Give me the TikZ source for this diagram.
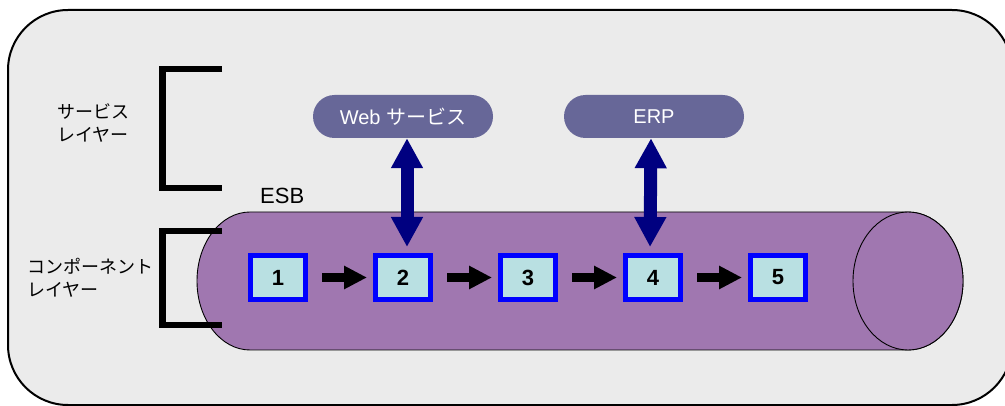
\documentclass[tikz,border=0pt]{standalone}
\usepackage{fontspec}
\setmainfont{Liberation Sans}
\newfontfamily\cjk{Noto Sans CJK JP}
\usetikzlibrary{arrows.meta}

\definecolor{panelfill}{HTML}{EBEBEB}
\definecolor{busfill}{HTML}{A077B0}
\definecolor{pillfill}{HTML}{676798}
\definecolor{linkblue}{HTML}{000080}
\definecolor{cellfill}{HTML}{B9E0E2}
\definecolor{cellline}{HTML}{0000FF}

\tikzset{
  panel/.style={draw=black, line width=2pt, fill=panelfill, rounded corners=60pt},
  bus/.style={draw=black, line width=0.9pt, fill=busfill},
  bracket/.style={draw=black, line width=6.5pt, line join=miter},
  layerlabel/.style={anchor=west, align=left, inner sep=0pt,
    font=\cjk\fontsize{18}{23}\selectfont},
  cell/.style={draw=cellline, line width=5pt, fill=cellfill,
    minimum width=55pt, minimum height=44pt, inner sep=0pt,
    font=\bfseries\fontsize{22}{22}\selectfont},
  pill/.style={fill=pillfill, text=white, minimum width=180pt,
    minimum height=43pt, rounded corners=21.5pt, inner sep=0pt,
    font=\fontsize{20}{20}\selectfont},
  flow/.style={draw=black, line width=9pt,
    -{Triangle[length=23pt,width=22pt]},
    shorten <=14pt, shorten >=6pt},
  link/.style={draw=linkblue, line width=13pt,
    {Triangle[length=30pt,width=30pt]}-{Triangle[length=30pt,width=30pt]},
    shorten >=6pt},
}

\begin{document}
\begin{tikzpicture}[x=1pt,y=-1pt]
\useasboundingbox (0,0) rectangle (1005,406);

% outer panel
\path[panel] (8,10) rectangle (1012,405);

% service bus cylinder
\path[bus] (250,212) -- (908,212)
  arc[start angle=-90, end angle=90, x radius=55, y radius=69]
  -- (250,350)
  arc[start angle=90, end angle=270, x radius=53, y radius=69] -- cycle;
\path[bus] (908,281) ellipse [x radius=55, y radius=69];

% layer brackets
\draw[bracket] (222,69) -- (162.5,69) -- (162.5,188) -- (222,188);
\draw[bracket] (222,231) -- (162.5,231) -- (162.5,325) -- (222,325);

% layer labels
\node[layerlabel] (svc) at (57,123) {サービス\\レイヤー};
\node[layerlabel] (cmp) at (27,278) {コンポーネント\\レイヤー};

% bus label
\node[anchor=base west, inner sep=0pt, font=\fontsize{22}{22}\selectfont]
  (esb) at (260,204) {ESB};

% services
\node[pill] (ws) at (403,116.5) {Web {\cjk サービス}};
\node[pill] (erp) at (654,116.5) {ERP};

% components
\node[cell] (b1) at (278,277.5) {1};
\node[cell] (b2) at (403,277.5) {2};
\node[cell] (b3) at (528,277.5) {3};
\node[cell] (b4) at (653,277.5) {4};
\node[cell] (b5) at (778,277.5) {5};

% message flow along the bus
\draw[flow] (b1) -- (b2);
\draw[flow] (b2) -- (b3);
\draw[flow] (b3) -- (b4);
\draw[flow] (b4) -- (b5);

% service connections
\draw[link] ([xshift=4pt]ws.south) -- ([xshift=4pt]b2.north);
\draw[link] ([xshift=-3pt]erp.south) -- ([xshift=-3pt]b4.north);
\end{tikzpicture}
\end{document}
